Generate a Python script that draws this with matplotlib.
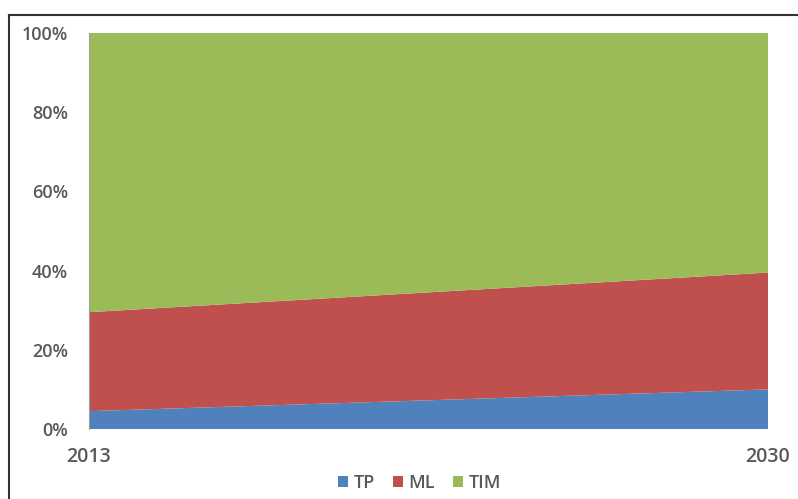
import matplotlib.pyplot as plt
from matplotlib.lines import Line2D
from matplotlib.patches import Patch

years = [2013, 2030]
tp = [4.5, 10]
ml = [25, 29.5]
tim = [70.5, 60.5]
series_names = ["TP", "ML", "TIM"]
y_ticks = [0, 20, 40, 60, 80, 100]
y_labels = ["0%", "20%", "40%", "60%", "80%", "100%"]

colors = ["#4F81BD", "#C0504D", "#9BBB59"]
text_color = "#595959"

plt.rcParams['font.family'] = ['Open Sans', 'DejaVu Sans']
plt.rcParams['font.weight'] = 'semibold'

fig = plt.figure(figsize=(7.98, 4.99), dpi=100)
ax = fig.add_axes([0.1115, 0.1403, 0.8509, 0.7936])

ax.stackplot(years, tp, ml, tim, colors=colors, linewidth=0)

ax.set_xlim(years[0], years[-1])
ax.set_ylim(0, 100)
ax.set_yticks(y_ticks)
ax.set_yticklabels(y_labels)
ax.set_xticks(years)
ax.set_xticklabels([str(y) for y in years])
ax.tick_params(axis='y', length=0, pad=15, labelsize=13, labelcolor=text_color)
ax.tick_params(axis='x', length=0, pad=13, labelsize=14, labelcolor=text_color)

for side in ['top', 'right', 'bottom']:
    ax.spines[side].set_visible(False)
ax.spines['left'].set_color('#A0A0A0')
ax.spines['left'].set_linewidth(0.8)

handles = [Patch(facecolor=c, edgecolor='none') for c in colors]
fig.legend(handles, series_names, loc='center', bbox_to_anchor=(0.526, 0.032),
           ncol=3, frameon=False, fontsize=13, handlelength=0.55, handleheight=0.55,
           handletextpad=0.3, columnspacing=1.0, labelcolor=text_color)

# outer frame (top and left edges)
fig.add_artist(Line2D([9 / 798, 1], [1 - 15 / 499, 1 - 15 / 499], color='#333333', lw=1.5))
fig.add_artist(Line2D([9 / 798, 9 / 798], [0, 1 - 15 / 499], color='#333333', lw=1.5))

fig.savefig("out.png", dpi=100)
